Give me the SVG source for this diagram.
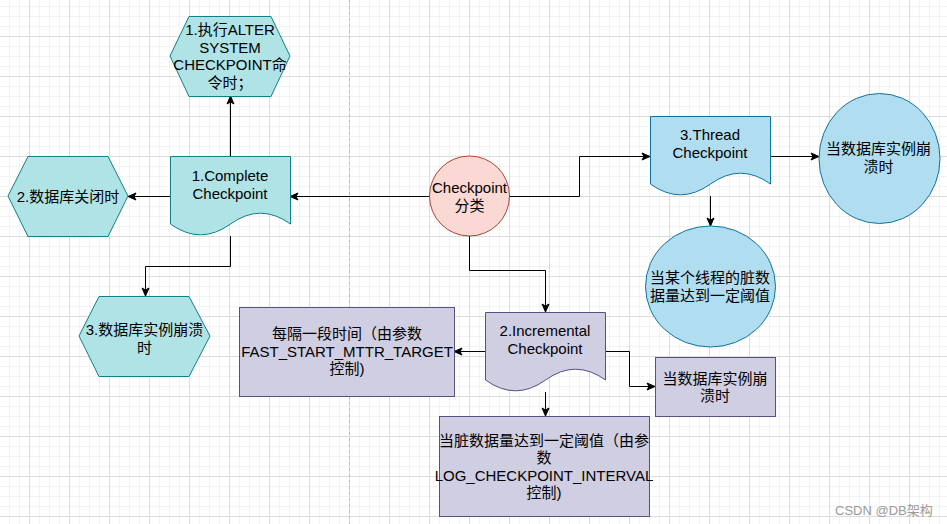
<svg xmlns="http://www.w3.org/2000/svg" width="947" height="524" viewBox="0 0 947 524">
<style>
.t{font-family:"Liberation Sans","Noto Sans CJK SC",sans-serif;font-size:15px;text-anchor:middle;fill:#000}
.teal{fill:#b0e3e6;stroke:#0e8088;stroke-width:1}
.blue{fill:#b1ddf0;stroke:#10739e;stroke-width:1}
.purple{fill:#d0cee2;stroke:#56517e;stroke-width:1}
.red{fill:#fad9d5;stroke:#ae4132;stroke-width:1}
.c{fill:none;stroke:#000;stroke-width:1;marker-end:url(#arr)}
</style>
<defs>
<pattern id="grid" patternUnits="userSpaceOnUse" x="29" y="36" width="40" height="40">
<path d="M10.5,0V40M20.5,0V40M30.5,0V40M0,10.5H40M0,20.5H40M0,30.5H40" stroke="#f3f3f3" stroke-width="1" fill="none"/>
<path d="M0.5,0V40M0,0.5H40" stroke="#dcdcdc" stroke-width="1" fill="none"/>
</pattern>
<marker id="arr" markerWidth="10" markerHeight="10" refX="9" refY="5" orient="auto" markerUnits="userSpaceOnUse">
<path d="M1,1.5L9,5L1,8.5L3,5Z" fill="#000" stroke="#000" stroke-width="1"/>
</marker>
</defs>
<rect width="947" height="524" fill="#fff"/>
<rect width="947" height="524" fill="url(#grid)"/>
<line x1="349.5" y1="0" x2="349.5" y2="524" stroke="#bdbdbd" stroke-dasharray="3,3"/>

<g id="connectors">
<path class="c" d="M230.5,156V96"/>
<path class="c" d="M429,196.5H290"/>
<path class="c" d="M170,196.5H128"/>
<path class="c" d="M230.5,236V266.5H145.5V296"/>
<path class="c" d="M509,196.5H579.5V156.5H650"/>
<path class="c" d="M469.5,236V270.5H545.5V312"/>
<path class="c" d="M770,156.5H819"/>
<path class="c" d="M710.5,196V226"/>
<path class="c" d="M485,351.5H454"/>
<path class="c" d="M605,351.5H629.5V386.5H655"/>
<path class="c" d="M545.5,392V416"/>
</g>

<g id="n-alter">
<polygon class="teal" points="189,16.5 271,16.5 290,56 271,96.5 189,96.5 170,56"/>
<text class="t"><tspan x="230" y="35">1.执行ALTER</tspan><tspan x="230" y="52.5">SYSTEM</tspan><tspan x="230" y="70">CHECKPOINT命</tspan><tspan x="230" y="87.5">令时；</tspan></text>
</g>

<g id="n-close">
<polygon class="teal" points="28,156.5 108,156.5 128,196 108,236.5 28,236.5 8,196"/>
<text class="t" x="68" y="202">2.数据库关闭时</text>
</g>

<g id="n-complete">
<path class="teal" d="M170.5,156.5H290.5V224Q260.5,202.4 230.5,224Q200.5,245.6 170.5,224Z"/>
<text class="t"><tspan x="230" y="181">1.Complete</tspan><tspan x="230" y="198.5">Checkpoint</tspan></text>
</g>

<g id="n-crash1">
<polygon class="teal" points="99,296.5 189,296.5 210,336 189,376.5 99,376.5 79,336"/>
<text class="t"><tspan x="144.5" y="335">3.数据库实例崩溃</tspan><tspan x="144.5" y="352.5">时</tspan></text>
</g>

<g id="n-center">
<circle class="red" cx="469.5" cy="196" r="40"/>
<text class="t"><tspan x="469.5" y="193">Checkpoint</tspan><tspan x="469.5" y="210.5">分类</tspan></text>
</g>

<g id="n-thread">
<path class="blue" d="M650.5,116.5H770.5V184Q740.5,162.4 710.5,184Q680.5,205.6 650.5,184Z"/>
<text class="t"><tspan x="710" y="140">3.Thread</tspan><tspan x="710" y="158">Checkpoint</tspan></text>
</g>

<g id="n-crash3">
<ellipse class="blue" cx="879.5" cy="158.5" rx="60.5" ry="65"/>
<text class="t"><tspan x="878.5" y="154">当数据库实例崩</tspan><tspan x="878.5" y="171.5">溃时</tspan></text>
</g>

<g id="n-threaddirty">
<ellipse class="blue" cx="710.5" cy="286.5" rx="65" ry="60.5"/>
<text class="t"><tspan x="710" y="283">当某个线程的脏数</tspan><tspan x="710" y="300.5">据量达到一定阈值</tspan></text>
</g>

<g id="n-incremental">
<path class="purple" d="M485.5,312.5H605.5V380Q575.5,358.4 545.5,380Q515.5,401.6 485.5,380Z"/>
<text class="t"><tspan x="545" y="336">2.Incremental</tspan><tspan x="545" y="353.5">Checkpoint</tspan></text>
</g>

<g id="n-mttr">
<rect class="purple" x="239.5" y="307.5" width="215" height="89"/>
<text class="t"><tspan x="347" y="339">每隔一段时间（由参数</tspan><tspan x="347" y="356.5">FAST_START_MTTR_TARGET</tspan><tspan x="347" y="374">控制)</tspan></text>
</g>

<g id="n-crash2">
<rect class="purple" x="655.5" y="357.5" width="120" height="59"/>
<text class="t"><tspan x="715" y="383.5">当数据库实例崩</tspan><tspan x="715" y="401">溃时</tspan></text>
</g>

<g id="n-interval">
<rect class="purple" x="439.5" y="416.5" width="210" height="100"/>
<text class="t"><tspan x="544" y="445.5">当脏数据量达到一定阈值（由参</tspan><tspan x="544" y="463">数</tspan><tspan x="544" y="480.5">LOG_CHECKPOINT_INTERVAL</tspan><tspan x="544" y="498">控制)</tspan></text>
</g>

<text x="835" y="515" style="font-family:'Liberation Sans','Noto Sans CJK SC',sans-serif;font-size:13px;fill:#9a9a9a">CSDN @DB架构</text>
</svg>
